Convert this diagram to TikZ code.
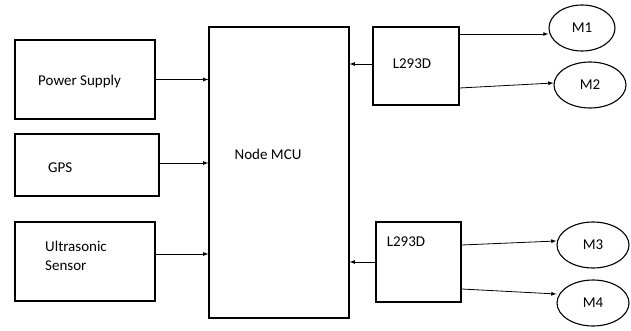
\documentclass[tikz,border=0pt]{standalone}
\usepackage{fontspec}
\setmainfont{Carlito}
\usetikzlibrary{shapes.geometric}

\tikzset{
  blk/.style = {draw, line width=1.2pt, inner sep=0pt},
  motor/.style = {draw, ellipse, line width=1.1pt, inner sep=0pt,
                  minimum width=72pt, minimum height=46pt},
  txt/.style = {font=\fontsize{15}{19}\selectfont, inner sep=0pt},
  arr/.style = {-latex, line width=0.8pt}
}

\begin{document}
\begin{tikzpicture}[x=1pt, y=-1pt]
    \useasboundingbox (0,0) rectangle (631,331);
    % input blocks
    \node[blk, minimum width=140pt, minimum height=79pt] (psu) at (85,79.5) {};
    \node[txt, anchor=west] (psutxt) at (38,82) {Power Supply};
    \node[blk, minimum width=144pt, minimum height=62pt] (gps) at (87,165) {};
    \node[txt, anchor=west] (gpstxt) at (48,168) {GPS};
    \node[blk, minimum width=140pt, minimum height=79pt] (us) at (85,261.5) {};
    \node[txt, anchor=west, align=left] (ustxt) at (45,255.5) {Ultrasonic\\Sensor};
    % controller
    \node[blk, minimum width=140pt, minimum height=291pt] (mcu) at (279,172.5) {};
    \node[txt] (mcutxt) at (268,154) {Node MCU};
    % drivers
    \node[blk, minimum width=86pt, minimum height=78pt] (drva) at (416,66) {};
    \node[txt] (drvatxt) at (412,64) {L293D};
    \node[blk, minimum width=85pt, minimum height=80pt] (drvb) at (418.5,262) {};
    \node[txt] (drvbtxt) at (406,242) {L293D};
    % motors
    \node[motor, minimum width=66pt] (m1) at (582,28) {};
    \node[txt] at (m1) {M1};
    \node[motor] (m2) at (590,85) {};
    \node[txt] at (m2) {M2};
    \node[motor] (m3) at (593,245) {};
    \node[txt] at (m3) {M3};
    \node[motor] (m4) at (593,303) {};
    \node[txt] at (m4) {M4};

    \draw[arr] (psu.east) -- (psu.east -| mcu.west);
    \draw[arr] (gps.east |- 0,163) -- (mcu.west |- 0,163);
    \draw[arr] (us.east |- 0,254) -- (mcu.west |- 0,254);
    \draw[arr] (drva.west |- 0,64) -- (mcu.east |- 0,64);
    \draw[arr] (drvb.west) -- (drvb.west -| mcu.east);
    \draw[arr] (drva.east |- 0,34) -- (m1.west |- 0,34);
    \draw[arr] (drva.east |- 0,88) -- (m2.west |- 0,83);
    \draw[arr] (drvb.east |- 0,245) -- (m3.west |- 0,241);
    \draw[arr] (drvb.east |- 0,289) -- (m4.west |- 0,294);
\end{tikzpicture}
\end{document}
